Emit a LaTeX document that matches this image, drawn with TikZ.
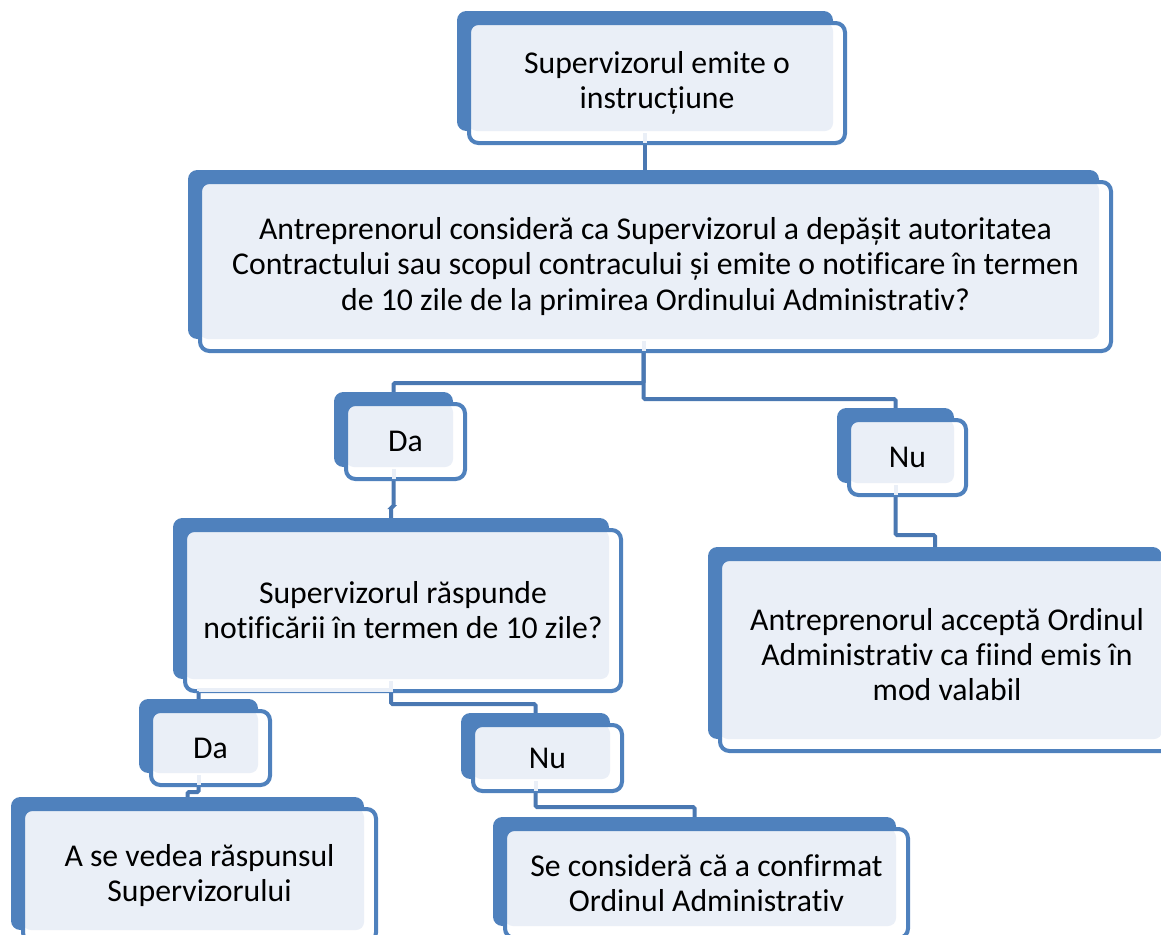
\documentclass[tikz,border=0pt]{standalone}
\usepackage{fontspec}
\setmainfont{Carlito}[Ligatures=NoCommon]
\usepackage{tikz}
\usetikzlibrary{backgrounds}
\definecolor{boxblue}{HTML}{4F81BD}
\definecolor{boxlight}{HTML}{EAEFF7}
\definecolor{linkblue}{HTML}{4A78B2}
\newcommand{\boxfont}{\fontsize{23.8pt}{26.3pt}\selectfont}
\tikzset{
  sbox/.style={draw=boxblue,line width=3pt,fill=white,rounded corners=7pt,
    align=center,font=\boxfont,inner sep=0pt,
    preaction={fill=boxblue,draw=none,transform canvas={shift={(-9pt,9pt)}}},
    path picture={\fill[boxlight,rounded corners=6pt]
      (path picture bounding box.north west) rectangle
      ([shift={(-9pt,9pt)}]path picture bounding box.south east);}},
  boxsize/.style 2 args={minimum width=#1*0.75pt,minimum height=#2*0.75pt},
  link/.style={draw=linkblue,line width=3pt,rounded corners=1pt},
  stub/.style={draw=boxlight,line width=3pt,shorten >=1.5pt}
}

\begin{document}
\begin{tikzpicture}[x=0.75pt,y=-0.75pt]
\useasboundingbox (0,0) rectangle (1161,935);
\node[sbox,boxsize={376}{120}] (start) at (657,83) {Supervizorul emite o\\instrucțiune};
\node[sbox,boxsize={911}{169}] (question) at (655.5,266.5) {Antreprenorul consideră ca Supervizorul a depășit autoritatea\\Contractului sau scopul contracului și emite o notificare în termen\\de 10 zile de la primirea Ordinului Administrativ?};
\node[sbox,boxsize={119}{75}] (da1) at (405.5,441.5) {Da};
\node[sbox,boxsize={117}{75}] (nu1) at (907.5,457.5) {Nu};
\node[sbox,boxsize={436}{161}] (reply) at (403,610.5) {Supervizorul răspunde\\notificării în termen de 10 zile?};
\node[sbox,boxsize={454}{192}] (accept) at (947,655) {Antreprenorul acceptă Ordinul\\Administrativ ca fiind emis în\\mod valabil};
\node[sbox,boxsize={119}{74}] (da2) at (210.5,748) {Da};
\node[sbox,boxsize={149}{66}] (nu2) at (547.5,758) {Nu};
\node[sbox,boxsize={353}{133}] (see) at (199.5,875.5) {A se vedea răspunsul\\Supervizorului};
\node[sbox,boxsize={403}{109}] (confirm) at (706.5,883.5) {Se consideră că a confirmat\\Ordinul Administrativ};
% connectors
\begin{scope}[on background layer]
\draw[link] ([xshift=-9pt]start.south) -- ([xshift=-9pt]start.south |- question.north);
\draw[link] ([xshift=-9pt]question.south) -- ++(0,30) -| ([xshift=-9pt]da1.north);
\draw[link] ([xshift=-9pt]question.south) -- ++(0,46) -| ([xshift=-9pt]nu1.north);
\draw[link] ([xshift=-9pt]da1.south) -- ++(0,26) -| ([xshift=-9pt]reply.north);
\draw[link] ([xshift=-9pt]nu1.south) -- ++(0,38) -| ([xshift=-9pt]accept.north);
\draw[link] ([xshift=-9pt]reply.south) -- ++(0,-3) -| ([xshift=-9pt]da2.north);
\draw[link] ([xshift=-9pt]reply.south) -- ++(0,11) -| ([xshift=-9pt]nu2.north);
\draw[link] ([xshift=-9pt]da2.south) -- ++(0,5) -| ([xshift=-9pt]see.north);
\draw[link] ([xshift=-9pt]nu2.south) -- ++(0,14) -| ([xshift=-9pt]confirm.north);
\end{scope}
\foreach \n in {start,question,da1,nu1,da2,nu2} {
  \draw[stub] ([shift={(-9pt,9pt)}]\n.south) -- ([xshift=-9pt]\n.south);
}
\draw[stub] ([shift={(-9pt,9pt)}]reply.south) -- ++(0,9) -| ([xshift=-9pt]da2.north |- reply.south);
\end{tikzpicture}
\end{document}
